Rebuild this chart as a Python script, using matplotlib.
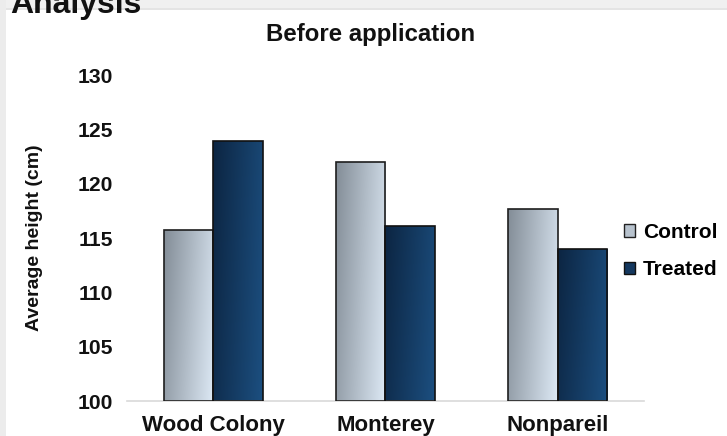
import matplotlib
matplotlib.use("Agg")
import matplotlib.pyplot as plt
import numpy as np
from matplotlib.patches import Rectangle, Patch

categories = ["Wood Colony", "Monterey", "Nonpareil"]
control = [115.7, 122.0, 117.7]
treated = [123.9, 116.1, 114.0]
series_names = ["Control", "Treated"]
yticks = [100, 105, 110, 115, 120, 125, 130]

plt.rcParams['font.family'] = ['Liberation Sans', 'DejaVu Sans']

W, H = 727, 436
fig = plt.figure(figsize=(W/100, H/100), dpi=100)
fig.patch.set_facecolor('white')

# page-like background strips
fig.add_artist(Rectangle((0, 1 - 8/H), 1, 8/H, transform=fig.transFigure,
                         facecolor='#f0f0f0', edgecolor='none', zorder=0))
fig.add_artist(Rectangle((0, 1 - 10.5/H), 1, 2.5/H, transform=fig.transFigure,
                         facecolor='#e4e4e4', edgecolor='none', zorder=0))
fig.add_artist(Rectangle((0, 0), 6/W, 1, transform=fig.transFigure,
                         facecolor='#ececec', edgecolor='none', zorder=0))
fig.text(10/W, 1 - 13.5/H, "Analysis", fontsize=23, fontweight='bold',
         ha='left', va='baseline', color='#111111')

ax = fig.add_axes([127/W, 35/H, 517/W, (401-75)/H])
ax.set_facecolor('none')

x = np.arange(len(categories))
bw = 0.287
b1 = ax.bar(x - bw/2, [c - 100 for c in control], bw, bottom=100,
            facecolor='none', edgecolor='#1e1e1e', linewidth=1.2, zorder=3)
b2 = ax.bar(x + bw/2, [t - 100 for t in treated], bw, bottom=100,
            facecolor='none', edgecolor='#111111', linewidth=1.2, zorder=3)

def gradient(c_left_top, c_right_bottom, n=64):
    a = np.array(matplotlib.colors.to_rgb(c_left_top))
    b = np.array(matplotlib.colors.to_rgb(c_right_bottom))
    xx, yy = np.meshgrid(np.linspace(0, 1, n), np.linspace(0, 1, n))
    t = np.clip(0.8 * xx + 0.2 * yy, 0, 1)
    return a + (b - a) * t[..., None]

g1 = gradient('#838d97', '#dde9f5')
g2 = gradient('#0c2542', '#1c4f80')
for bars, g in ((b1, g1), (b2, g2)):
    for r in bars:
        x0, y0 = r.get_x(), r.get_y()
        im = ax.imshow(g, extent=[x0, x0 + r.get_width(), y0, y0 + r.get_height()],
                       aspect='auto', origin='upper', zorder=2, interpolation='bilinear')
        im.set_clip_path(r)

ax.set_xlim(-0.5, 2.5)
ax.set_ylim(100, 130)
ax.set_yticks(yticks)
ax.set_xticks(x)
ax.set_xticklabels(categories)
for lab in ax.get_yticklabels():
    lab.set_fontweight('bold')
    lab.set_fontsize(15.2)
    lab.set_color('#111111')
for lab in ax.get_xticklabels():
    lab.set_fontweight('bold')
    lab.set_fontsize(16)
    lab.set_color('#111111')
ax.tick_params(axis='both', length=0)
ax.tick_params(axis='x', pad=10)
ax.tick_params(axis='y', pad=10)
for s in ['top', 'right', 'left']:
    ax.spines[s].set_visible(False)
ax.spines['bottom'].set_color('#d9d9d9')
ax.spines['bottom'].set_linewidth(1.2)

ax.set_ylabel("Average height (cm)", fontsize=14, fontweight='bold', color='#111111')
ax.yaxis.set_label_coords((43 - 127) / 517, 0.5)

fig.text(371/W, 1 - 34/H, "Before application", fontsize=17.3, fontweight='bold',
         ha='center', va='center', color='#111111')

handles = [Patch(facecolor='#b8c3ce', edgecolor='#222222', linewidth=1.0),
           Patch(facecolor='#14385f', edgecolor='#111111', linewidth=1.0)]
leg = fig.legend(handles, series_names, loc='center left',
                 bbox_to_anchor=(624/W, 1 - 251/H), frameon=False,
                 borderaxespad=0, borderpad=0,
                 handlelength=0.55, handleheight=0.55, handletextpad=0.35,
                 labelspacing=0.9, prop={'weight': 'bold', 'size': 15})

fig.savefig("out.png", dpi=100)
